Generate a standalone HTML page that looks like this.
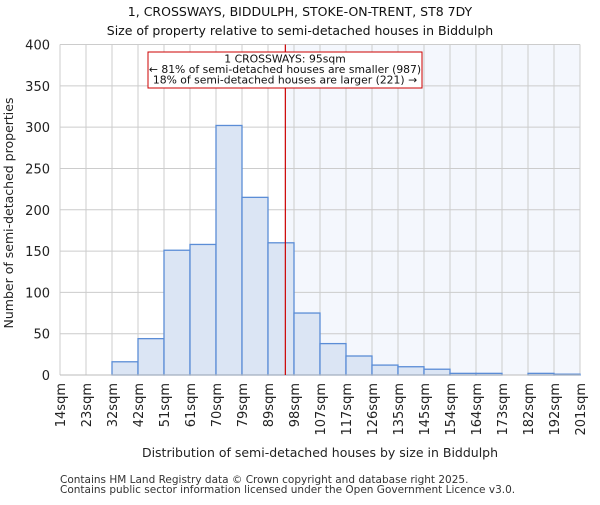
<!DOCTYPE html>
<html><head><meta charset="utf-8"><style>body{margin:0;background:#fff}svg{font-family:"DejaVu Sans","Liberation Sans",sans-serif}</style></head>
<body>
<svg id="c" width="600" height="500"></svg>
<script>
const edges=["14sqm","23sqm","32sqm","42sqm","51sqm","61sqm","70sqm","79sqm","89sqm","98sqm","107sqm","117sqm","126sqm","135sqm","145sqm","154sqm","164sqm","173sqm","182sqm","192sqm","201sqm"];
const counts=[0,0,16,44,151,158,302,215,160,75,38,23,12,10,7,2,2,0,2,1];
const yTicks=[0,50,100,150,200,250,300,350,400];
const markerBin=8.667;
const NS="http://www.w3.org/2000/svg",svg=document.getElementById('c');
const L=60,R=580,T=44.5,B=375,nb=counts.length;
const x=i=>L+(R-L)*i/nb, y=v=>B-(B-T)*v/400;
function mk(t,a,p){const e=document.createElementNS(NS,t);for(const k in a)e.setAttribute(k,a[k]);(p||svg).appendChild(e);return e;}
let e;
e=mk('rect',{x:x(markerBin),y:T,width:R-x(markerBin),height:B-T,fill:'#f4f7fd'});


yTicks.forEach(v=>{
 e=mk('line',{x1:L,x2:R,y1:y(v),y2:y(v),stroke:'#cccccc'});
 
 
 e=mk('text',{x:L-10,y:y(v)+5,'text-anchor':'end','font-size':13,fill:'#222'});e.textContent=v;
 
 
});
edges.forEach((s,i)=>{
 e=mk('line',{x1:x(i),x2:x(i),y1:T,y2:B,stroke:'#cccccc'});
 
 
 e=mk('text',{transform:`translate(${x(i)+5},${B+8}) rotate(-90)`,'text-anchor':'end','font-size':13,fill:'#222'});e.textContent=s;
 
 
});
counts.forEach((v,i)=>{
 if(v<=0)return;
 e=mk('rect',{x:x(i),y:y(v),width:x(i+1)-x(i),height:B-y(v),fill:'#dbe5f4',stroke:'#5b8dd6','stroke-width':1.3});
 
 
});
e=mk('line',{x1:L,x2:R,y1:B,y2:B,stroke:'#bbb'});


e=mk('line',{x1:x(markerBin),x2:x(markerBin),y1:T,y2:B,stroke:'#cc0000','stroke-width':1.2});


e=mk('rect',{x:148,y:52,width:274,height:36,fill:'#fff',stroke:'#cc0000'});


["1 CROSSWAYS: 95sqm","← 81% of semi-detached houses are smaller (987)","18% of semi-detached houses are larger (221) →"].forEach((t,i)=>{
 e=mk('text',{x:285,y:62.5+i*10.5,'text-anchor':'middle','font-size':10.8,fill:'#111'});e.textContent=t;
 
 
});
[["1, CROSSWAYS, BIDDULPH, STOKE-ON-TRENT, ST8 7DY",12,'chart-title'],["Size of property relative to semi-detached houses in Biddulph",31,'chart-subtitle']].forEach(a=>{
 e=mk('text',{x:300,y:a[1]+4,'text-anchor':'middle','font-size':12.5,fill:'#111'});e.textContent=a[0];
 
 
});
e=mk('text',{x:320,y:457,'text-anchor':'middle','font-size':12.5,fill:'#222'});e.textContent="Distribution of semi-detached houses by size in Biddulph";


e=mk('text',{transform:'translate(13,213) rotate(-90)','text-anchor':'middle','font-size':12.5,fill:'#222'});e.textContent="Number of semi-detached properties";


["Contains HM Land Registry data © Crown copyright and database right 2025.","Contains public sector information licensed under the Open Government Licence v3.0."].forEach((t,i)=>{
 e=mk('text',{x:60,y:483+i*10,'font-size':10.5,fill:'#333'});e.textContent=t;
 
 
});
</script>
</body></html>
